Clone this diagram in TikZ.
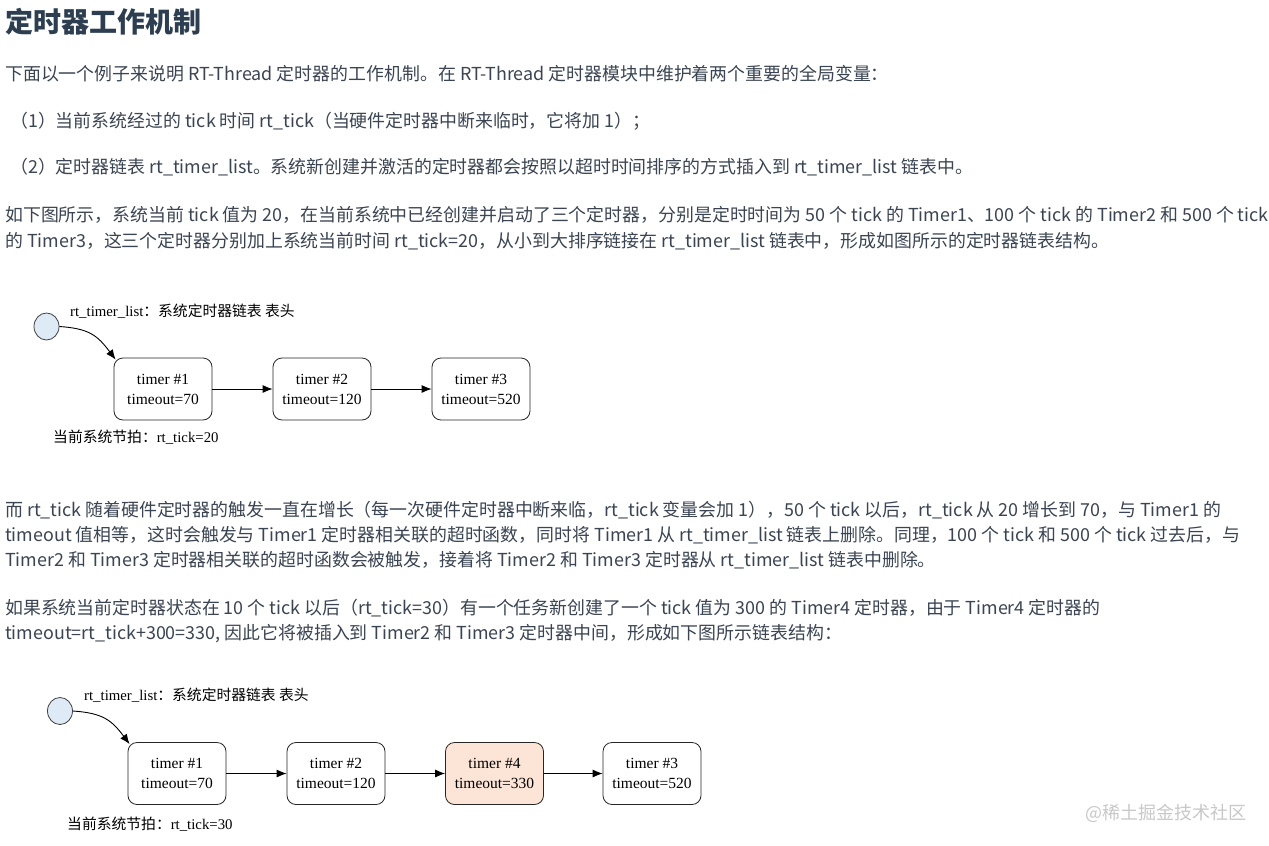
\documentclass[tikz,border=0pt]{standalone}
\usepackage{fontspec}
\setmainfont{Noto Sans CJK SC}
\newfontfamily\cjk{Noto Sans CJK SC}
\newfontfamily\diag{Liberation Serif}
\usetikzlibrary{arrows.meta}
\usetikzlibrary{shapes.geometric}
\definecolor{bodytext}{HTML}{3A4452}
\definecolor{titletext}{HTML}{2C3E50}
\definecolor{headfill}{HTML}{DEEBF7}
\definecolor{newfill}{HTML}{FCE4D6}
\definecolor{mark}{HTML}{C8C8C8}

\begin{document}
\begin{tikzpicture}[x=1pt,y=-1pt,
  >={Latex[length=10pt,width=8pt]},
  para/.style={anchor=base west,inner sep=0pt,text=bodytext,font=\fontsize{17.9}{21}\selectfont},
  label/.style={anchor=base west,inner sep=0pt,font=\diag\fontsize{14.8}{17}\selectfont},
  timer/.style={draw=black!85,line width=0.8pt,rounded corners=9pt,fill=white,
    minimum width=98pt,minimum height=62pt,align=center,inner sep=0pt,
    font=\diag\fontsize{15.5}{20}\selectfont},
  head/.style={draw=black!75,line width=0.8pt,fill=headfill,ellipse,minimum width=25pt,minimum height=27pt,inner sep=0pt},
  link/.style={->,line width=0.9pt,black}]
\useasboundingbox[fill=white] (0,0) rectangle (1269,846);
% heading and text
\node[anchor=base west,inner sep=0pt,text=titletext,font=\bfseries\fontsize{28}{31}\selectfont] (title) at (5,32.5) {定时器工作机制};
\node[para] (p1) at (5,80.5) {下面以一个例子来说明 RT-Thread 定时器的工作机制。在 RT-Thread 定时器模块中维护着两个重要的全局变量：};
\node[para] (p2) at (10,127.5) {（1）当前系统经过的 tick 时间 rt\_tick（当硬件定时器中断来临时，它将加 1）；};
\node[para] (p3) at (10,173.5) {（2）定时器链表 rt\_timer\_list。系统新创建并激活的定时器都会按照以超时时间排序的方式插入到 rt\_timer\_list 链表中。};
\node[para] (p4) at (5,221.5) {如下图所示，系统当前 tick 值为 20，在当前系统中已经创建并启动了三个定时器，分别是定时时间为 50 个 tick 的 Timer1、100 个 tick 的 Timer2 和 500 个 tick};
\node[para] (p5) at (5,247.5) {的 Timer3，这三个定时器分别加上系统当前时间 rt\_tick=20，从小到大排序链接在 rt\_timer\_list 链表中，形成如图所示的定时器链表结构。};

% first list
\node[head] (h1) at (46.5,326.5) {};
\node[label] (t1) at (70,316) {rt\_timer\_list{\cjk ：系统定时器链表 表头}};
\node[timer] (a1) at (163,389) {timer \#1\\timeout=70};
\node[timer] (a2) at (322,389) {timer \#2\\timeout=120};
\node[timer] (a3) at (481,389) {timer \#3\\timeout=520};
\node[label] (n1) at (53,442) {{\cjk 当前系统节拍：}rt\_tick=20};
\draw[link] (h1.east) .. controls +(30,2) and +(-18,-24) .. ([shift={(2,2)}]a1.north west);
\draw[link] (a1) -- (a2);
\draw[link] (a2) -- (a3);

\node[para] (q1) at (5,516.5) {而 rt\_tick 随着硬件定时器的触发一直在增长（每一次硬件定时器中断来临，rt\_tick 变量会加 1），50 个 tick 以后，rt\_tick 从 20 增长到 70，与 Timer1 的};
\node[para] (q2) at (5,541.5) {timeout 值相等，这时会触发与 Timer1 定时器相关联的超时函数，同时将 Timer1 从 rt\_timer\_list 链表上删除。同理，100 个 tick 和 500 个 tick 过去后，与};
\node[para] (q3) at (5,566.5) {Timer2 和 Timer3 定时器相关联的超时函数会被触发，接着将 Timer2 和 Timer3 定时器从 rt\_timer\_list 链表中删除。};
\node[para] (q4) at (5,614.5) {如果系统当前定时器状态在 10 个 tick 以后（rt\_tick=30）有一个任务新创建了一个 tick 值为 300 的 Timer4 定时器，由于 Timer4 定时器的};
\node[para] (q5) at (5,639.5) {timeout=rt\_tick+300=330, 因此它将被插入到 Timer2 和 Timer3 定时器中间，形成如下图所示链表结构：};

% second list
\node[head] (h2) at (60,711) {};
\node[label] (t2) at (84,700) {rt\_timer\_list{\cjk ：系统定时器链表 表头}};
\node[timer] (b1) at (177,773.5) {timer \#1\\timeout=70};
\node[timer] (b2) at (336,773.5) {timer \#2\\timeout=120};
\node[timer,fill=newfill] (b4) at (494.5,773.5) {timer \#4\\timeout=330};
\node[timer] (b3) at (652,773.5) {timer \#3\\timeout=520};
\node[label] (n2) at (67,829) {{\cjk 当前系统节拍：}rt\_tick=30};
\draw[link] (h2.east) .. controls +(30,2) and +(-18,-24) .. ([shift={(2,2)}]b1.north west);
\draw[link] (b1) -- (b2);
\draw[link] (b2) -- (b4);
\draw[link] (b4) -- (b3);

\node[anchor=base west,inner sep=0pt,text=mark,font=\fontsize{18}{20}\selectfont] (wm) at (1085,819) {@稀土掘金技术社区};
\end{tikzpicture}
\end{document}
